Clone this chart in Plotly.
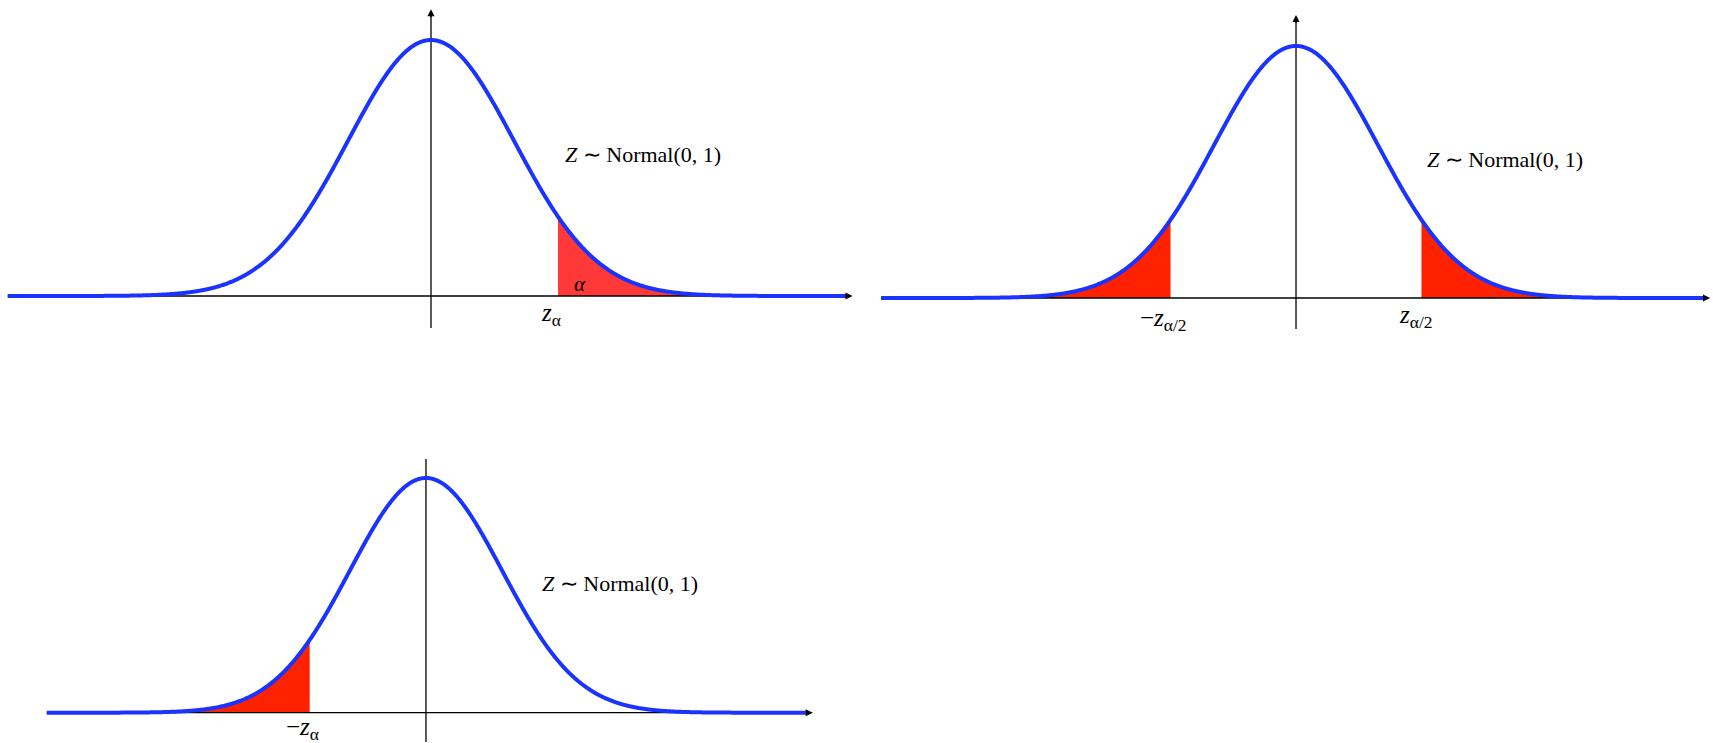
import numpy as np
import plotly.graph_objects as go

# Standard normal density, three tail-area diagrams
MU, SIGMA = 0.0, 1.0
Z_CRIT = [1.53, 1.53, 1.53]          # critical value drawn in each panel
TAILS = [["right"], ["left", "right"], ["left"]]
FILL_COLORS = ["#FF3838", "#FF2200", "#FF2200"]
CURVE_COLOR = "#1A33FF"

DIST_LABEL = "<i>Z</i> ∼ Normal(0, 1)"
CRIT_LABELS = [
    [("<i>z</i><sub>α</sub>", 1.44, -0.029)],
    [("−<i>z</i><sub>α/2</sub>", -1.62, -0.034), ("<i>z</i><sub>α/2</sub>", 1.46, -0.029)],
    [("−<i>z</i><sub>α</sub>", -1.63, -0.026)],
]
AREA_LABEL = ("<i>α</i>", 1.79, 0.018)

# horizontal axis extent (left end, arrow tip) and vertical axis extent per panel
X_EXTENT = [(-5.10, 5.08), (-5.06, 5.05), (-4.99, 5.09)]
Y_EXTENT = [(-0.050, 0.447), (-0.049, 0.448), (-0.050, 0.431)]
Y_ARROW = [True, True, False]

W, H = 1713, 743
# axis placement: (x domain, x range, y domain, y range)
PANELS = [
    ([0, 862 / W], [-5.193, 5.193], [1 - 340 / H, 1], [-0.0686, 0.4613]),
    ([870 / W, 1], [-5.195, 5.085], [1 - 340 / H, 1], [-0.0665, 0.4717]),
    ([0, 862 / W], [-5.605, 5.737], [0, 1 - 445 / H], [-0.0515, 0.455]),
]


def pdf(x):
    return np.exp(-0.5 * ((x - MU) / SIGMA) ** 2) / (SIGMA * np.sqrt(2 * np.pi))


fig = go.Figure()
annotations = []
layout_axes = {}

for i, (xd, xr, yd, yr) in enumerate(PANELS):
    sfx = "" if i == 0 else str(i + 1)
    xa, ya = "x" + sfx, "y" + sfx
    layout_axes["xaxis" + sfx] = dict(domain=xd, range=xr, visible=False, anchor=ya, fixedrange=True)
    layout_axes["yaxis" + sfx] = dict(domain=yd, range=yr, visible=False, anchor=xa, fixedrange=True)

    x0, x1 = X_EXTENT[i]
    z = Z_CRIT[i]

    # shaded tail areas
    for side in TAILS[i]:
        if side == "right":
            xs = np.linspace(z, x1 - 0.08, 400)
        else:
            xs = np.linspace(x0, -z, 400)
        fig.add_trace(go.Scatter(
            x=xs, y=pdf(xs), xaxis=xa, yaxis=ya, mode="lines",
            line=dict(width=0, simplify=False), fill="tozeroy", fillcolor=FILL_COLORS[i],
            hoverinfo="skip", showlegend=False))

    # axes lines
    fig.add_trace(go.Scatter(x=[x0, x1 - 0.05], y=[0, 0], xaxis=xa, yaxis=ya, mode="lines",
                             line=dict(color="black", width=1.3), hoverinfo="skip", showlegend=False))
    yb, yt = Y_EXTENT[i]
    fig.add_trace(go.Scatter(x=[0, 0], y=[yb, yt - (0.006 if Y_ARROW[i] else 0)], xaxis=xa, yaxis=ya,
                             mode="lines", line=dict(color="black", width=1.3),
                             hoverinfo="skip", showlegend=False))

    # density curve
    xs = np.linspace(x0, x1 - 0.06, 1200)
    fig.add_trace(go.Scatter(x=xs, y=pdf(xs), xaxis=xa, yaxis=ya, mode="lines",
                             line=dict(color=CURVE_COLOR, width=4, simplify=False),
                             hoverinfo="skip", showlegend=False))

    # arrowheads
    annotations.append(dict(x=x1, y=0, ax=x1 - 0.10, ay=0, xref=xa, yref=ya, axref=xa, ayref=ya,
                            text="", showarrow=True, arrowhead=2, arrowsize=1.1, arrowwidth=1.3,
                            arrowcolor="black"))
    if Y_ARROW[i]:
        annotations.append(dict(x=0, y=yt, ax=0, ay=yt - 0.015, xref=xa, yref=ya, axref=xa, ayref=ya,
                                text="", showarrow=True, arrowhead=2, arrowsize=1.1, arrowwidth=1.3,
                                arrowcolor="black"))

    # text
    annotations.append(dict(x=2.55, y=0.22, xref=xa, yref=ya, text=DIST_LABEL, showarrow=False,
                            font=dict(family="Liberation Serif", size=22, color="black")))
    for txt, lx, ly in CRIT_LABELS[i]:
        annotations.append(dict(x=lx, y=ly, xref=xa, yref=ya, text=txt, showarrow=False,
                                font=dict(family="Liberation Serif", size=25, color="black")))
    if i == 0:
        txt, lx, ly = AREA_LABEL
        annotations.append(dict(x=lx, y=ly, xref=xa, yref=ya, text=txt, showarrow=False,
                                font=dict(family="Liberation Serif", size=21, color="black")))

fig.update_layout(
    width=W, height=H, margin=dict(l=0, r=0, t=0, b=0),
    paper_bgcolor="white", plot_bgcolor="white",
    annotations=annotations, showlegend=False, **layout_axes)

fig.write_html("out.html", config={"displayModeBar": False})
